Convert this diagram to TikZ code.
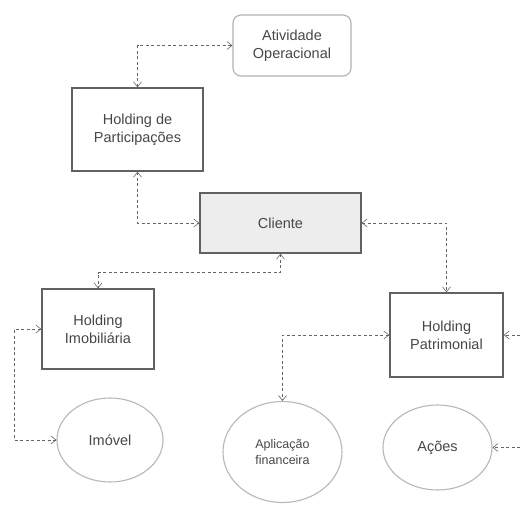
\documentclass[tikz,border=0pt]{standalone}
\usepackage{fontspec}
\setmainfont{Liberation Sans}
\usetikzlibrary{arrows.meta,shapes.geometric}
\begin{document}
\begin{tikzpicture}[x=1pt,y=-1pt,
  txt/.style={text=black!72, font=\fontsize{14.5}{18}\selectfont, align=center},
  box/.style={txt, rectangle, draw=black!62, line width=1.4pt, inner sep=0pt},
  softbox/.style={txt, rectangle, rounded corners=8pt, draw=black!30, line width=1.1pt, inner sep=0pt},
  ell/.style={txt, ellipse, draw=black!28, line width=1.1pt, inner sep=0pt},
  conn/.style={draw=black!60, line width=0.7pt, dash pattern=on 3pt off 2.5pt,
     arrows={Straight Barb[length=5pt,width=8pt,line width=0.6pt]-Straight Barb[length=5pt,width=8pt,line width=0.6pt]}},
  oneway/.style={draw=black!60, line width=0.7pt, dash pattern=on 3pt off 2.5pt,
     arrows={-Straight Barb[length=5pt,width=8pt,line width=0.6pt]}}]
\useasboundingbox[fill=white] (0,0) rectangle (520,504);

\node[softbox, minimum width=118pt, minimum height=61pt] (ao) at (292,45.5) {Atividade\\Operacional};
\node[box, minimum width=131pt, minimum height=83pt] (hp) at (137.5,129.5) {Holding de\\Participações};
\node[box, fill=black!7, minimum width=161pt, minimum height=60pt] (cl) at (280.5,223) {Cliente};
\node[box, minimum width=112pt, minimum height=80pt] (hi) at (98,329) {Holding\\Imobiliária};
\node[box, minimum width=113pt, minimum height=84pt] (hpt) at (446.5,335) {Holding\\Patrimonial};
\node[ell, minimum width=106pt, minimum height=84pt] (im) at (110,440) {Imóvel};
\node[ell, minimum width=119pt, minimum height=101pt, font=\fontsize{12.5}{16}\selectfont] (ap) at (282.5,452) {Aplicação\\financeira};
\node[ell, minimum width=109pt, minimum height=85pt] (ac) at (437.5,447.5) {Ações};

\coordinate (e1) at (520,335);
\coordinate (e2) at (520,447.5);

\draw[conn] (hp.north) |- (ao.west);
\draw[conn] (hp.south) |- (cl.west);
\draw[conn] (cl.south) -- ++(0,19) -| (hi.north);
\draw[conn] (cl.east) -| (hpt.north);
\draw[conn] (hi.west) -- ++(-27,0) |- (im.west);
\draw[conn] (hpt.west) -| (ap.north);
\draw[oneway] (e1) -- (hpt.east);
\draw[oneway] (e2) -- (ac.east);
\end{tikzpicture}
\end{document}
